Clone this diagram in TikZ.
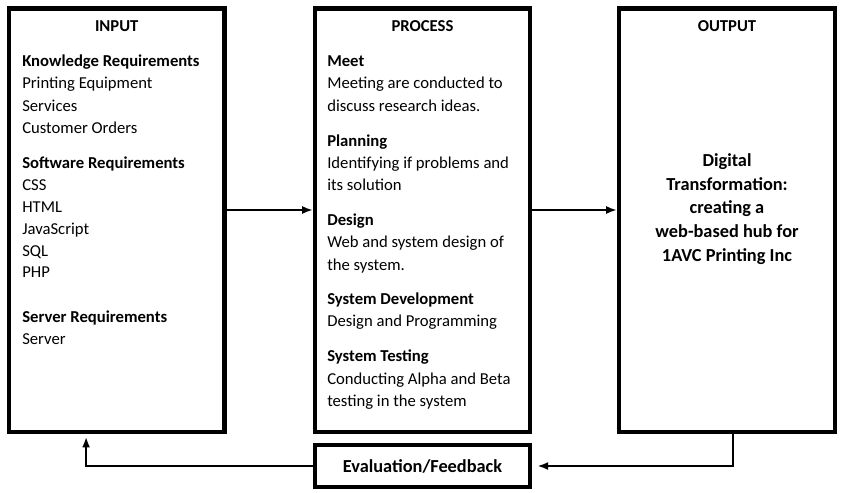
\documentclass[tikz,border=0pt]{standalone}
\usepackage{fontspec}
\setmainfont{Carlito}
\usetikzlibrary{arrows.meta,calc}

\begin{document}
\begin{tikzpicture}[x=0.75pt, y=-0.75pt,
  blk/.style={rectangle, draw, line width=3.2pt, inner sep=0pt},
  ttl/.style={anchor=base, inner sep=0pt, font=\fontsize{12.5}{15}\selectfont\bfseries},
  ln/.style={anchor=base west, inner sep=0pt, font=\fontsize{12.5}{15}\selectfont},
  oln/.style={anchor=base, inner sep=0pt, font=\fontsize{13.75}{16}\selectfont\bfseries},
  arr/.style={-{Latex[length=8pt, width=6pt]}, line width=1.5pt}]
\useasboundingbox (0,0) rectangle (841,492);
% boxes
\node[blk, minimum width=161.6pt, minimum height=317.6pt] (in) at (116.75,220.25) {};
\node[blk, minimum width=161.25pt, minimum height=317.6pt] (pr) at (422.5,220.25) {};
\node[blk, minimum width=162pt, minimum height=317.6pt] (out) at (727,220.25) {};
\node[blk, minimum width=161.25pt, minimum height=31.5pt, font=\fontsize{13.75}{16}\selectfont\bfseries] (fb) at (422.5,466) {Evaluation/Feedback};
% titles
\node[ttl] (inT) at (116.75,32) {INPUT};
\node[ttl] (prT) at (422.5,32) {PROCESS};
\node[ttl] (outT) at (727,32) {OUTPUT};
% input lines
\foreach \y/\t [count=\i] in {66/{\textbf{Knowledge Requirements}}, 89/Printing Equipment,
  111.5/Services, 133.5/Customer Orders, 168.5/{\textbf{Software Requirements}},
  190.5/CSS, 212.5/HTML, 234.5/JavaScript, 256.5/SQL, 277.5/PHP,
  322.5/{\textbf{Server Requirements}}, 344.5/Server}
  \node[ln] (in\i) at (22,\y) {\t};
% process lines
\foreach \y/\t [count=\i] in {66/{\textbf{Meet}}, 89/Meeting are conducted to,
  111.5/discuss research ideas., 146.5/{\textbf{Planning}}, 168.5/Identifying if problems and,
  190.5/its solution, 225.5/{\textbf{Design}}, 247.5/Web and system design of,
  270/the system., 304.5/{\textbf{System Development}}, 326.5/Design and Programming,
  361.5/{\textbf{System Testing}}, 384/Conducting Alpha and Beta, 406/testing in the system}
  \node[ln] (pr\i) at (327,\y) {\t};
% output lines
\foreach \y/\t [count=\i] in {166/Digital, 190/Transformation:, 213.5/creating a,
  237/web-based hub for, 261/1AVC Printing Inc}
  \node[oln] (out\i) at (727,\y) {\t};
% connectors
\draw[arr] ([yshift=7.69pt]in.east) -- ([yshift=7.69pt]pr.west);
\draw[arr] ([yshift=7.69pt]pr.east) -- ([yshift=7.69pt]out.west);
\draw[arr, shorten >=4pt] ([xshift=4.5pt]out.south) |- (fb.east);
\draw[arr, shorten >=2pt] (fb.west) -| ([xshift=-23pt]in.south);
\end{tikzpicture}
\end{document}
